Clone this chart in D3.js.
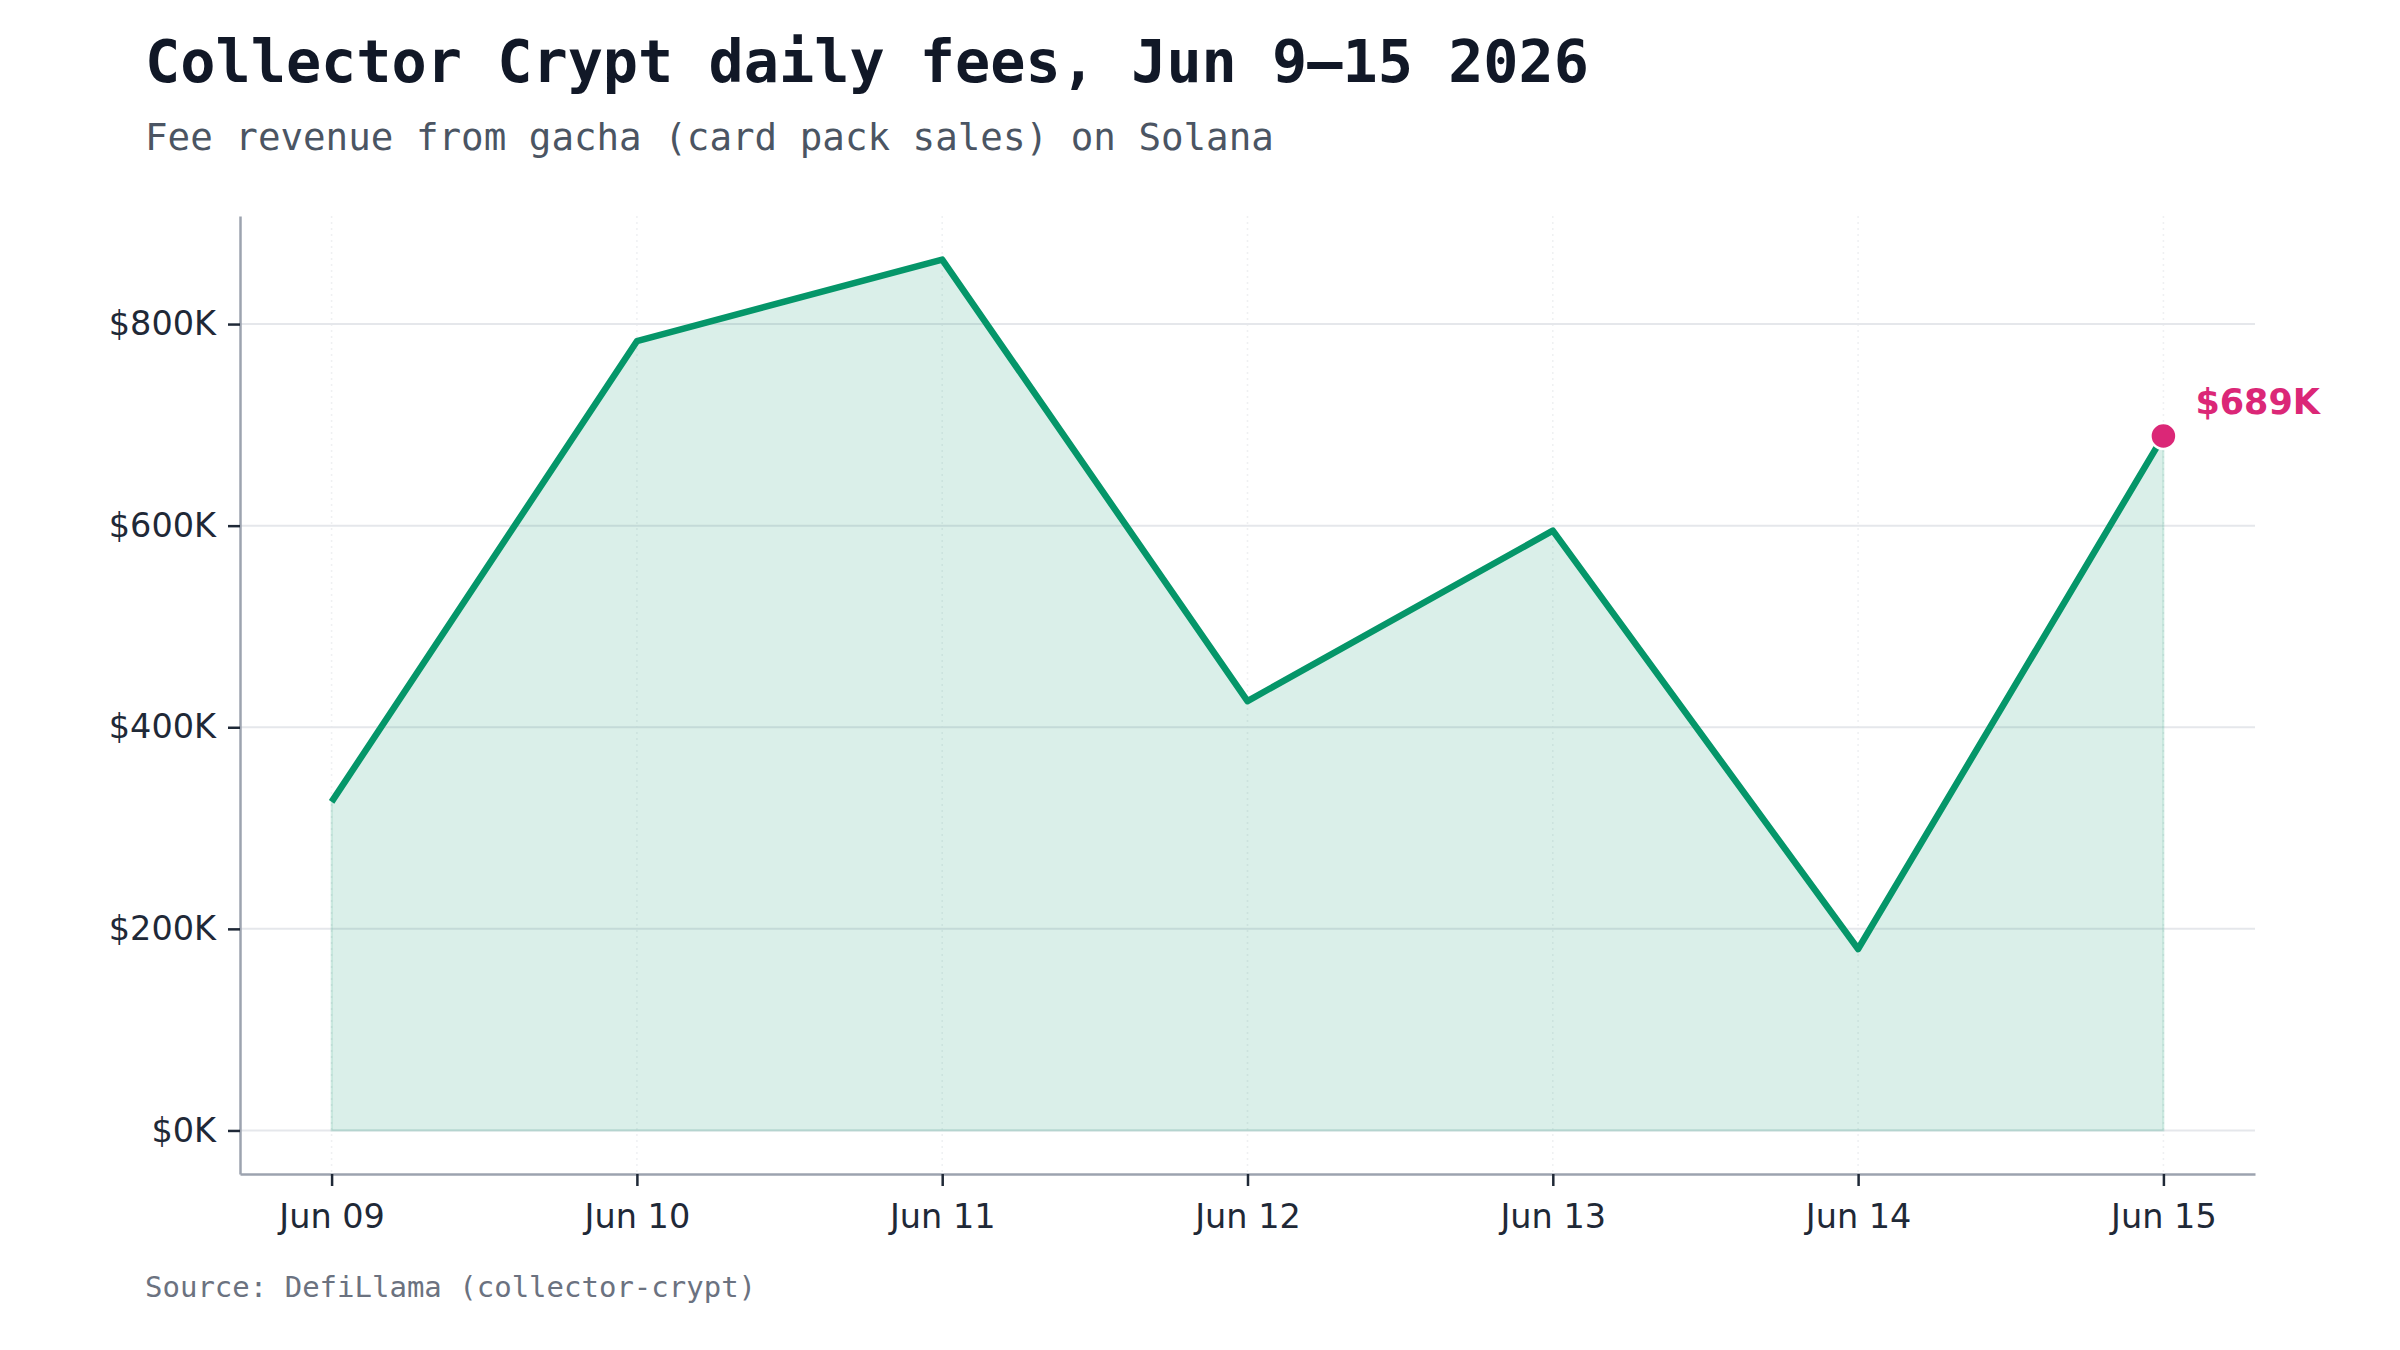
<!DOCTYPE html>
<html lang="en">
<head>
<meta charset="utf-8">
<title>Collector Crypt daily fees</title>
<script src="https://cdn.jsdelivr.net/npm/d3@7"></script>
<style>
  html, body { margin: 0; padding: 0; background: #fff; }
  .title { font-family: "DejaVu Sans Mono", monospace; font-weight: bold; fill: #111827; }
  .subtitle { font-family: "DejaVu Sans Mono", monospace; fill: #4b5563; }
  .source { font-family: "DejaVu Sans Mono", monospace; fill: #6b7280; }
  .axis text { font-family: "DejaVu Sans", sans-serif; font-size: 33.5px; fill: #1f2937; }
  .axis .tick line { stroke: #1f2937; stroke-width: 2.5; }
  .axis path.domain { stroke: #9ca3af; stroke-width: 2.5; }
</style>
</head>
<body>
<div id="chart"></div>
<script>
var days = ["2026-06-09", "2026-06-10", "2026-06-11", "2026-06-12", "2026-06-13", "2026-06-14", "2026-06-15"];
var fees = [326000, 783000, 864000, 426000, 595000, 180000, 689000];
var yTicks = [0, 200000, 400000, 600000, 800000];

var width = 2400, height = 1350;
var margin = { left: 240, right: 145, top: 216, bottom: 176 };

var parse = d3.utcParse("%Y-%m-%d");
var data = days.map(function(d, i) { return { date: parse(d), value: fees[i] }; });

var svg = d3.select("#chart")
    .append("svg")
    .attr("width", width)
    .attr("height", height);

// matplotlib-like 5% margins on both axes
var first = data[0].date, last = data[data.length - 1].date;
var pad = (last - first) * 0.05;
var x = d3.scaleUtc()
    .domain([new Date(+first - pad), new Date(+last + pad)])
    .range([margin.left, width - margin.right]);

var ymax = d3.max(fees);
var y = d3.scaleLinear()
    .domain([-ymax * 0.05, ymax * 1.05])
    .range([height - margin.bottom, margin.top]);

// grid
svg.append("g")
  .selectAll("line")
    .data(yTicks)
  .enter().append("line")
    .attr("x1", margin.left).attr("x2", width - margin.right)
    .attr("y1", function(d) { return y(d); })
    .attr("y2", function(d) { return y(d); })
    .attr("stroke", "#e5e7eb")
    .attr("stroke-width", 2);

svg.append("g")
  .selectAll("line")
    .data(data)
  .enter().append("line")
    .attr("x1", function(d) { return x(d.date); })
    .attr("x2", function(d) { return x(d.date); })
    .attr("y1", margin.top).attr("y2", height - margin.bottom)
    .attr("stroke", "#e5e7eb")
    .attr("stroke-width", 1.5)
    .attr("stroke-dasharray", "2,4")
    .attr("opacity", 0.6);

// area
var area = d3.area()
    .x(function(d) { return x(d.date); })
    .y0(y(0))
    .y1(function(d) { return y(d.value); });

svg.append("path")
    .datum(data)
    .attr("d", area)
    .attr("fill", "#059669")
    .attr("fill-opacity", 0.15)
    .attr("stroke", "#059669")
    .attr("stroke-opacity", 0.15)
    .attr("stroke-width", 2);

var line = d3.line()
    .x(function(d) { return x(d.date); })
    .y(function(d) { return y(d.value); });

svg.append("path")
    .datum(data)
    .attr("d", line)
    .attr("fill", "none")
    .attr("stroke", "#059669")
    .attr("stroke-width", 6.5)
    .attr("stroke-linejoin", "round");

// axes
svg.append("g")
    .attr("class", "axis")
    .attr("transform", "translate(" + margin.left + ",0)")
    .call(d3.axisLeft(y)
      .tickValues(yTicks)
      .tickSize(12)
      .tickSizeOuter(0)
      .tickPadding(12)
      .tickFormat(function(d) { return "$" + (d / 1000) + "K"; }));

svg.append("g")
    .attr("class", "axis")
    .attr("transform", "translate(0," + (height - margin.bottom) + ")")
    .call(d3.axisBottom(x)
      .tickValues(data.map(function(d) { return d.date; }))
      .tickSize(12)
      .tickSizeOuter(0)
      .tickPadding(18)
      .tickFormat(d3.utcFormat("%b %d")));

// highlight last point
var lastPt = data[data.length - 1];
svg.append("circle")
    .attr("cx", x(lastPt.date))
    .attr("cy", y(lastPt.value))
    .attr("r", 13)
    .attr("fill", "#db2777")
    .attr("stroke", "#fff")
    .attr("stroke-width", 2.5);

svg.append("text")
    .attr("x", x(lastPt.date) + 32)
    .attr("y", y(lastPt.value) - 22)
    .attr("font-family", "DejaVu Sans, sans-serif")
    .attr("font-weight", "bold")
    .attr("font-size", 35)
    .attr("fill", "#db2777")
    .text("$" + Math.round(lastPt.value / 1000) + "K");

// titles
svg.append("text")
    .attr("class", "title")
    .attr("x", 145).attr("y", 82)
    .attr("font-size", 58.5)
    .text("Collector Crypt daily fees, Jun 9\u201315 2026");

svg.append("text")
    .attr("class", "subtitle")
    .attr("x", 145).attr("y", 150)
    .attr("font-size", 37.5)
    .text("Fee revenue from gacha (card pack sales) on Solana");

svg.append("text")
    .attr("class", "source")
    .attr("x", 145).attr("y", 1297)
    .attr("font-size", 29)
    .text("Source: DefiLlama (collector-crypt)");
</script>
</body>
</html>
